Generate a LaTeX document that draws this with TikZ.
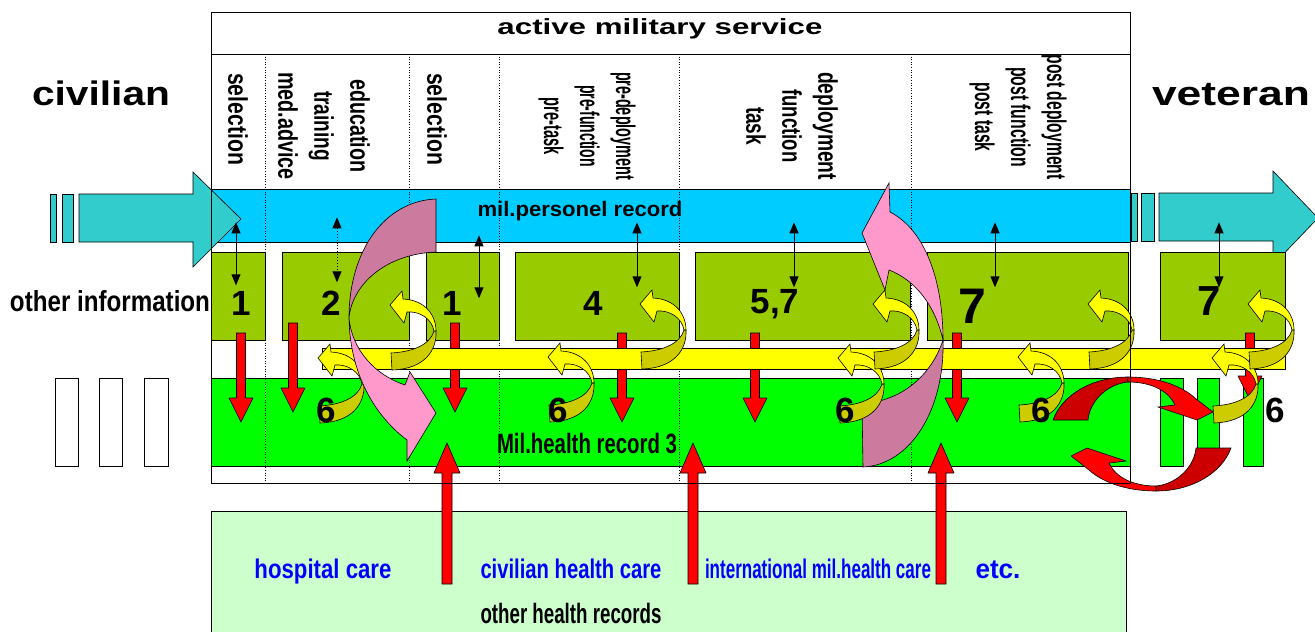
\documentclass[tikz,border=0pt]{standalone}
\usepackage{fontspec}
\setmainfont{Liberation Sans}
\usetikzlibrary{arrows.meta}

\definecolor{persblue}{HTML}{00CCFF}
\definecolor{infoolive}{HTML}{99CC00}
\definecolor{healthgreen}{HTML}{00FF00}
\definecolor{caregreen}{HTML}{CCFFCC}
\definecolor{flowcyan}{HTML}{33CCCC}
\definecolor{ylight}{HTML}{FFFF00}
\definecolor{ydark}{HTML}{CCCC00}
\definecolor{pinklight}{HTML}{FF99CC}
\definecolor{pinkdark}{HTML}{CC7A9E}
\definecolor{redlight}{HTML}{FF0000}
\definecolor{reddark}{HTML}{CC0000}
\definecolor{careblue}{HTML}{0000FF}

\newcommand{\fitw}[2]{\resizebox{#1}{\height}{#2}}

\tikzset{
  rim/.style={draw=black, line width=0.6pt},
  band/.style={rim, inner sep=0pt, anchor=north west},
  link/.style={line width=0.9pt, {Triangle[length=11pt,width=9pt]}-{Triangle[length=11pt,width=9pt]}},
  lbl/.style={anchor=base, inner sep=0pt},
  phase/.style={rotate=-90, align=center, inner sep=0pt, font=\bfseries\fontsize{27}{36}\selectfont},
  num/.style={lbl, font=\bfseries\fontsize{35}{40}\selectfont},
  care/.style={lbl, text=careblue, font=\bfseries\fontsize{27}{30}\selectfont},
  pics/uturn/.style={code={
    \filldraw[rim, fill=ydark] (1,48) .. controls (22,47) and (40,40) .. (44,26) -- (46,26)
      .. controls (47,45) and (35,64) .. (2,65) -- cycle;
    \filldraw[rim, fill=ylight] (44,26) .. controls (42,14) and (30,6) .. (17,7) -- (14,18) -- (0,0)
      -- (12,-14) -- (13,-6) .. controls (35,-5) and (46,10) .. (46,26) -- cycle;
  }},
  pics/downarrow/.style={code={
    \filldraw[rim, fill=redlight] (-4.5,0) -- (4.5,0) -- (4.5,#1-24) -- (12,#1-24) -- (0,#1)
      -- (-12,#1-24) -- (-4.5,#1-24) -- cycle;
  }},
  pics/uparrow/.style={code={
    \filldraw[rim, fill=redlight] (0,0) -- (13,30) -- (5,30) -- (5,#1) -- (-5,#1) -- (-5,30)
      -- (-13,30) -- cycle;
  }},
}

\begin{document}
\begin{tikzpicture}[x=1pt, y=-1pt]
\useasboundingbox (0,0) rectangle (1315,632);

% other health records
\node[band, fill=caregreen, minimum width=915pt, minimum height=130pt] (carebox) at (211,511) {};

% civilian and veteran record pieces
\foreach \x/\w [count=\i] in {55/23, 99/23, 144/24}
  \node[band, fill=white, minimum width=\w pt, minimum height=88pt] (civbar\i) at (\x,378) {};
\foreach \x/\w [count=\i] in {1160/23, 1197/22, 1243/20}
  \node[band, fill=healthgreen, minimum width=\w pt, minimum height=88pt] (vetbar\i) at (\x,378) {};

% records
\node[band, fill=healthgreen, minimum width=919pt, minimum height=88pt] (healthrec) at (211,378) {};
\node[band, fill=persblue, minimum width=919pt, minimum height=53pt] (persrec) at (211,189) {};

% flow civilian -> veteran
\filldraw[rim, fill=flowcyan] (50,194) rectangle (56,242) (62,194) rectangle (73,242);
\filldraw[rim, fill=flowcyan] (79,194) -- (193,194) -- (193,172) -- (241,219) -- (193,267)
  -- (193,242) -- (79,242) -- cycle;
\filldraw[rim, fill=flowcyan] (1131,193) rectangle (1137,241) (1141,193) rectangle (1154,241);
\filldraw[rim, fill=flowcyan] (1159,193) -- (1273,193) -- (1273,171) -- (1318,218) -- (1273,265)
  -- (1273,241) -- (1159,241) -- cycle;

% other information
\foreach \n/\x/\w in {A/211/54, B/282/127, C/426/73, D/515/164, E/695/215, F/927/201, G/1160/125}
  \node[band, fill=infoolive, minimum width=\w pt, minimum height=88pt] (info\n) at (\x,252) {};

% phases
\foreach \x in {265,409,499,679,911}
  \draw[dotted, line width=0.6pt] (\x,54) -- (\x,483);

% information -> health record
\foreach \x/\y/\l in {241/333/89, 293/323/89, 455/323/89, 622/333/89, 755/333/89, 957/333/89, 1250/333/67}
  \pic at (\x,\y) {downarrow=\l};

\node[band, fill=ylight, minimum width=963pt, minimum height=21pt] (signal) at (322,348) {};

% personnel record <-> information
\foreach \x [count=\i] in {236,337,479,637,794,995,1219}
  \coordinate (lk\i) at (\x,0);
\draw[link, shorten <=6.5pt, shorten >=11pt] (persrec.center -| lk1) -- (infoA.center -| lk1);
\draw[link, dotted, shorten <=1.5pt, shorten >=14pt] (persrec.center -| lk2) -- (infoB.center -| lk2);
\draw[link, shorten <=19.5pt, shorten >=-2pt] (persrec.center -| lk3) -- (infoC.center -| lk3);
\draw[link, shorten <=6.5pt, shorten >=9pt] (persrec.center -| lk4) -- (infoD.center -| lk4);
\draw[link, shorten <=6.5pt, shorten >=9pt] (persrec.center -| lk5) -- (infoE.center -| lk5);
\draw[link, shorten <=6.5pt, shorten >=9pt] (persrec.center -| lk6) -- (infoF.center -| lk6);
\draw[link, shorten <=6.5pt, shorten >=9pt] (persrec.center -| lk7) -- (infoG.center -| lk7);

% other records -> health record
\foreach \x in {447,693,941}
  \pic at (\x,443) {uparrow=141};

% deployment loop
\filldraw[rim, fill=pinkdark] (943,340) .. controls (945,410) and (910,465) .. (863,467) -- (862,403)
  .. controls (895,403) and (930,380) .. (943,340) -- cycle;
\filldraw[rim, fill=pinklight] (889,183) -- (890,212) .. controls (925,230) and (943,280) .. (943,340)
  .. controls (935,305) and (915,280) .. (889,270) -- (885,290) -- (862,233) -- cycle;

% exchange with veteran care
\foreach \r in {0,180}{
  \begin{scope}[rotate around={\r:(1142,434)}]
    \filldraw[rim, fill=reddark] (1053,420) .. controls (1062,395) and (1092,377) .. (1128,377) -- (1128,382)
      .. controls (1108,384) and (1090,400) .. (1088,420) -- cycle;
    \filldraw[rim, fill=redlight] (1128,377) .. controls (1160,377) and (1183,387) .. (1195,398) -- (1213,412)
      -- (1197,420) -- (1158,407) -- (1175,405) .. controls (1168,390) and (1150,382) .. (1128,382) -- cycle;
  \end{scope}
}

% feedback loops
\foreach \x/\y in {390/305, 318/358, 548/357, 640/304, 838/358, 873/304, 1018/357, 1088/304, 1212/358, 1248/304}
  \pic at (\x,\y) {uturn};

% selection loop
\filldraw[rim, fill=pinkdark] (436,199) .. controls (385,201) and (349,250) .. (349,318)
  .. controls (352,285) and (385,254) .. (436,252) -- cycle;
\filldraw[rim, fill=pinklight] (349,318) .. controls (350,380) and (380,420) .. (407,440) -- (407,461)
  -- (436,413) -- (410,372) -- (405,385) .. controls (375,375) and (352,350) .. (349,318) -- cycle;

% labels
\node[lbl, font=\bfseries\fontsize{22}{26}\selectfont] (title) at (660,34) {\fitw{325pt}{active military service}};
\node[lbl, font=\bfseries\fontsize{34}{40}\selectfont] (civilian) at (101,105) {\fitw{138pt}{civilian}};
\node[lbl, font=\bfseries\fontsize{34}{40}\selectfont] (veteran) at (1231,105) {\fitw{158pt}{veteran}};
\node[lbl, font=\bfseries\fontsize{29}{32}\selectfont] (otherinfo) at (110,311) {\fitw{200pt}{other information}};
\node[lbl, font=\bfseries\fontsize{21}{24}\selectfont] (perslabel) at (580,216) {\fitw{205pt}{mil.personel record}};
\node[lbl, font=\bfseries\fontsize{28}{32}\selectfont] (healthlabel) at (587,453) {\fitw{180pt}{Mil.health record 3}};

\node[phase] (ph1) at (238,119) {\fitw{92pt}{selection}};
\node[phase] (ph2) at (324,126) {\fitw{93pt}{education}\\\fitw{70pt}{training}\\\fitw{108pt}{med.advice}};
\node[phase] (ph3) at (437,119) {\fitw{92pt}{selection}};
\node[phase] (ph4) at (587,126) {\fitw{108pt}{pre-deployment}\\\fitw{82pt}{pre-function}\\\fitw{57pt}{pre-task}};
\node[phase] (ph5) at (792,126) {\fitw{108pt}{deployment}\\\fitw{73pt}{function}\\\fitw{38pt}{task}};
\node[phase] (ph6) at (1018,117) {\fitw{125pt}{post deployment}\\\fitw{100pt}{post function}\\\fitw{69pt}{post task}};

\node[num] (nA) at (241,315) {1};
\node[num] (nB) at (331,315) {2};
\node[num] (nC) at (452,315) {1};
\node[num] (nD) at (593,315) {4};
\node[num] (nE) at (775,313) {5,7};
\node[num, font=\bfseries\fontsize{50}{56}\selectfont] (nF) at (972,323) {7};
\node[num, font=\bfseries\fontsize{42}{48}\selectfont] (nG) at (1209,315) {7};
\foreach \x [count=\i] in {326,558,845,1041,1275}
  \node[num] (six\i) at (\x,422) {6};

\node[care] (hospcare) at (323,578) {\fitw{137pt}{hospital care}};
\node[care] (civcare) at (571,578) {\fitw{181pt}{civilian health care}};
\node[care] (intcare) at (818,578) {\fitw{226pt}{international mil.health care}};
\node[care] (etccare) at (998,578) {\fitw{45pt}{etc.}};
\node[lbl, font=\bfseries\fontsize{28}{32}\selectfont] (otherrec) at (571,623) {\fitw{181pt}{other health records}};

% active service frame
\draw[line width=0.8pt] (211,12) rectangle (1130,483) (211,54) -- (1130,54);
\end{tikzpicture}
\end{document}
